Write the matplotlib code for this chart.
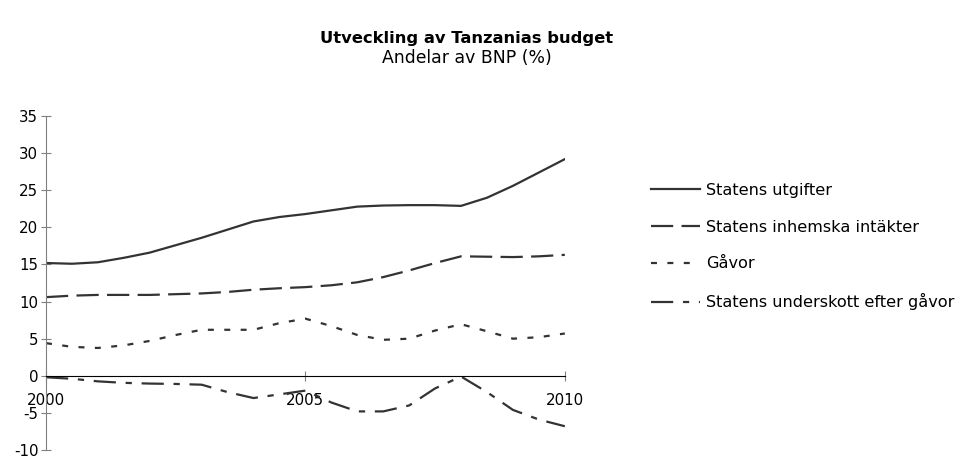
import numpy as np
import matplotlib
matplotlib.use("Agg")
import matplotlib.pyplot as plt

plt.rcParams['font.family'] = ['DejaVu Sans']
plt.rcParams['lines.scale_dashes'] = False
plt.rcParams['axes.unicode_minus'] = False

# ==============================
#  Data (andel av BNP, %), halvårsvis avläst
# ==============================
years = [2000, 2000.5, 2001, 2001.5, 2002, 2002.5, 2003, 2003.5, 2004, 2004.5,
         2005, 2005.5, 2006, 2006.5, 2007, 2007.5, 2008, 2008.5, 2009, 2009.5, 2010]

utgifter = [15.2, 15.1, 15.3, 15.9, 16.6, 17.6, 18.6, 19.7, 20.8, 21.4,
            21.8, 22.3, 22.8, 22.95, 23.0, 23.0, 22.9, 24.0, 25.6, 27.4, 29.2]

intakter = [10.6, 10.8, 10.9, 10.9, 10.9, 11.0, 11.1, 11.3, 11.6, 11.8,
            11.95, 12.2, 12.6, 13.3, 14.2, 15.2, 16.1, 16.05, 16.0, 16.1, 16.3]

gavor = [4.4, 3.9, 3.75, 4.1, 4.7, 5.5, 6.2, 6.2, 6.2, 7.1,
         7.7, 6.7, 5.5, 4.85, 5.0, 6.1, 6.95, 6.0, 5.0, 5.2, 5.7]

underskott = [-0.2, -0.4, -0.75, -0.95, -1.05, -1.1, -1.2, -2.2, -3.0, -2.5,
              -2.0, -3.6, -4.8, -4.8, -4.0, -1.7, -0.1, -2.2, -4.6, -5.9, -6.8]

labels = ["Statens utgifter", "Statens inhemska intäkter", "Gåvor",
          "Statens underskott efter gåvor"]

x_ticks = [2000, 2005, 2010]
y_ticks = [-10, -5, 0, 5, 10, 15, 20, 25, 30, 35]

# ==============================
#  Plot
# ==============================
fig = plt.figure(figsize=(9.68, 4.58), dpi=100)
ax = fig.add_axes([0.0475, 0.0175, 0.536, 0.729])

col = '#333333'
lw = 1.6
ax.plot(years, utgifter, color=col, lw=lw, ls='-', label=labels[0])
ax.plot(years, intakter, color=col, lw=lw, ls=(0, (16, 6)), label=labels[1])
ax.plot(years, gavor, color=col, lw=lw, ls=(0, (4.3, 7.5)), label=labels[2])
ax.plot(years, underskott, color=col, lw=lw, ls=(0, (16, 7, 4.5, 7)), label=labels[3])

ax.set_xlim(2000, 2010)
ax.set_ylim(-10, 35)
ax.set_xticks(x_ticks)
ax.set_yticks(y_ticks)

for s in ['top', 'right']:
    ax.spines[s].set_visible(False)
ax.spines['left'].set_color('#808080')
ax.spines['bottom'].set_position(('data', 0))
ax.spines['bottom'].set_color('black')

ax.tick_params(axis='y', direction='inout', length=7, colors='#808080',
               labelcolor='black', labelsize=10.8, pad=2)
ax.tick_params(axis='x', direction='inout', length=7, colors='#808080',
               labelcolor='black', labelsize=10.8, pad=9)

fig.text(0.4825, 0.917, "Utveckling av Tanzanias budget", ha='center', va='center',
         fontsize=11.8, fontweight='bold')
fig.text(0.4825, 0.873, "Andelar av BNP (%)", ha='center', va='center', fontsize=12.4)

fig.legend(loc='upper left', bbox_to_anchor=(651 / 968, 1 - 183 / 458),
           frameon=False, fontsize=11.6, handlelength=3.05, handletextpad=0.37,
           labelspacing=1.35, borderpad=0, borderaxespad=0)

fig.savefig("out.png", dpi=100)
